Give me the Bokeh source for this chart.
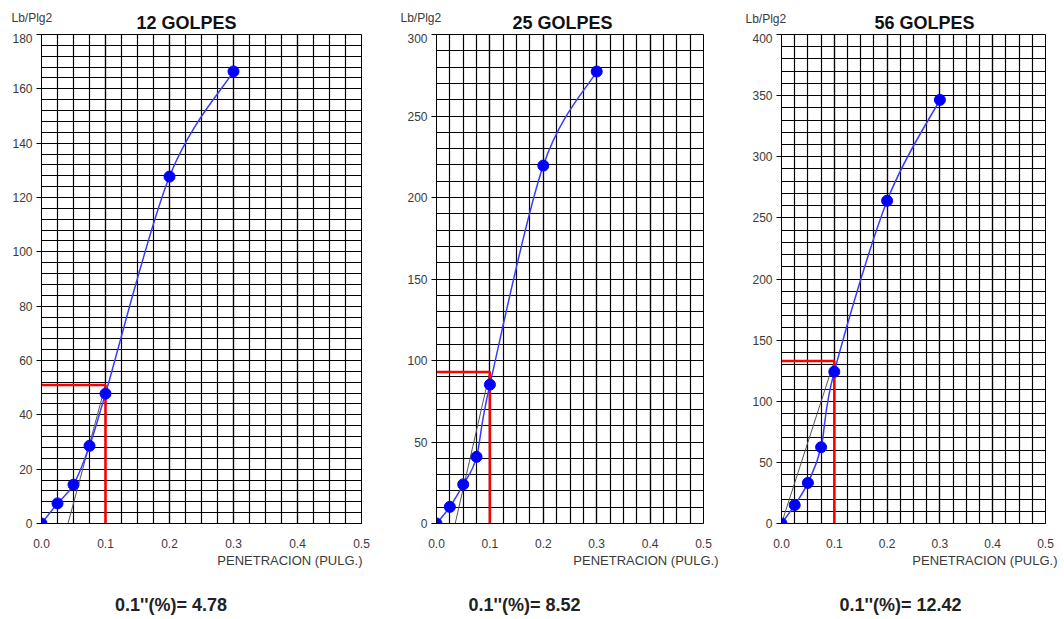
from bokeh.plotting import figure
from bokeh.layouts import row, column
from bokeh.models import Range1d, SingleIntervalTicker, PrintfTickFormatter
from bokeh.core.properties import value
from bokeh.embed import file_html
from bokeh.resources import INLINE

# ---- data ----
pen = [0.0, 0.025, 0.05, 0.075, 0.1, 0.2, 0.3]
load_12 = [0.0, 7.4, 14.3, 28.6, 47.8, 127.7, 166.4]
load_25 = [0.0, 10.2, 24.0, 40.9, 85.2, 219.6, 277.3]
load_56 = [0.0, 15.1, 33.2, 62.4, 124.2, 264.0, 346.5]
titles = ["12 GOLPES", "25 GOLPES", "56 GOLPES"]
corrected = [51.0, 93.0, 133.0]          # red guide level at 0.1"
tangent_start = [0.0414, 0.035, 0.0]     # x-intercept of corrected tangent
cbr_values = ["4.78", "8.52", "12.42"]
y_max = [180, 300, 400]
y_step = [20, 50, 50]
loads = [load_12, load_25, load_56]

FONT = "Liberation Sans"
W_ALL = 1064
H = 619
HEAD_H = 33
FOOT_TOP = 553

# layout (canvas pixel geometry)
layout = [
    dict(left=0, width=390, fl=41, fr=361, ft=34, fb=523, title_cx=186, unit_x=11, unit_y=17, pen_r=362, pen_y=560, res_cx=170.5),
    dict(left=390, width=345, fl=436, fr=703, ft=34, fb=523, title_cx=562, unit_x=400, unit_y=17, pen_r=718, pen_y=560, res_cx=524),
    dict(left=735, width=329, fl=781, fr=1045, ft=34, fb=523, title_cx=924, unit_x=745, unit_y=18, pen_r=1057, pen_y=560, res_cx=900),
]


def smooth_segments(xs, ys):
    n = len(xs)
    out = dict(x0=[], y0=[], x1=[], y1=[], cx0=[], cy0=[], cx1=[], cy1=[])
    for i in range(n - 1):
        a = i - 1 if i > 0 else i
        d = i + 2 if i + 2 < n else i + 1
        out["x0"].append(xs[i]); out["y0"].append(ys[i])
        out["x1"].append(xs[i + 1]); out["y1"].append(ys[i + 1])
        out["cx0"].append(xs[i] + (xs[i + 1] - xs[a]) / 6.0)
        out["cy0"].append(ys[i] + (ys[i + 1] - ys[a]) / 6.0)
        out["cx1"].append(xs[i + 1] - (xs[d] - xs[i]) / 6.0)
        out["cy1"].append(ys[i + 1] - (ys[d] - ys[i]) / 6.0)
    return out


def text_strip(w, h):
    s = figure(width=w, height=h, output_backend="svg", toolbar_location=None,
               x_range=Range1d(0, w), y_range=Range1d(h, 0),
               x_axis_type=None, y_axis_type=None,
               min_border=0, min_border_left=0, min_border_right=0,
               min_border_top=0, min_border_bottom=0)
    s.grid.visible = False
    s.outline_line_color = None
    s.background_fill_color = "white"
    s.border_fill_color = "white"
    return s


def put(s, x, y, text, align, size, bold=False, color="#3a3a3a"):
    s.text([x], [y], text=[text], text_align=align, text_baseline="middle",
           text_font=value(FONT), text_font_size=size,
           text_font_style="bold" if bold else "normal", text_color=color)


head = text_strip(W_ALL, HEAD_H)
foot = text_strip(W_ALL, H - FOOT_TOP)

panels = []
for k in range(3):
    g = layout[k]
    ymax = y_max[k]
    L = g["left"]
    W = g["width"]

    put(head, g["title_cx"], 22, titles[k], "center", "18px", True, "#111111")
    put(head, g["unit_x"], g["unit_y"], "Lb/Plg2", "left", "12px")

    p = figure(width=W, height=FOOT_TOP - HEAD_H, output_backend="svg", toolbar_location=None,
               x_range=Range1d(0, 0.5), y_range=Range1d(0, ymax),
               min_border_left=g["fl"] - L, min_border_right=L + W - g["fr"],
               min_border_top=g["ft"] - HEAD_H, min_border_bottom=FOOT_TOP - g["fb"])
    p.background_fill_color = "white"
    p.border_fill_color = "white"
    p.outline_line_color = "black"
    p.outline_line_width = 1

    p.xaxis.ticker = SingleIntervalTicker(interval=0.1, num_minor_ticks=4)
    p.yaxis.ticker = SingleIntervalTicker(interval=y_step[k], num_minor_ticks=5)
    p.xaxis.formatter = PrintfTickFormatter(format="%.1f")
    for ax in (p.xaxis, p.yaxis):
        ax.axis_line_color = "black"
        ax.major_label_text_font = FONT
        ax.major_label_text_font_size = "12px"
        ax.major_label_text_color = "#3a3a3a"
        ax.minor_tick_line_color = None
        ax.major_tick_in = 0
    p.yaxis.major_tick_out = 5
    p.yaxis.major_label_standoff = 4
    p.xaxis.major_tick_out = 0
    p.xaxis.major_label_standoff = 11

    for gr in (p.xgrid, p.ygrid):
        gr.grid_line_color = "#000000"
        gr.grid_line_width = 1.2
        gr.minor_grid_line_color = "#000000"
        gr.minor_grid_line_width = 1.2

    xs = pen
    ys = loads[k]
    p.line([tangent_start[k], 0.1], [0, corrected[k]], line_color="#555555", line_width=1)
    p.line([0, 0.1, 0.1], [corrected[k], corrected[k], 0], line_color="#ff0000", line_width=2.5)
    seg = smooth_segments(xs, ys)
    p.bezier(source=seg, x0="x0", y0="y0", x1="x1", y1="y1", cx0="cx0", cy0="cy0",
             cx1="cx1", cy1="cy1", line_color="#3b3bff", line_width=1.5)
    p.scatter(xs, ys, size=11, fill_color="#0000ff", line_color="#0000ff")

    put(foot, g["pen_r"], g["pen_y"] - FOOT_TOP, "PENETRACION (PULG.)", "right", "13px")
    put(foot, g["res_cx"], 604 - FOOT_TOP, "0.1''(%)= " + cbr_values[k], "center", "18px", True, "#222222")

    panels.append(p)

page = column(head, row(*panels, spacing=0), foot, spacing=0)
open("out.html", "w").write(file_html(page, INLINE))
